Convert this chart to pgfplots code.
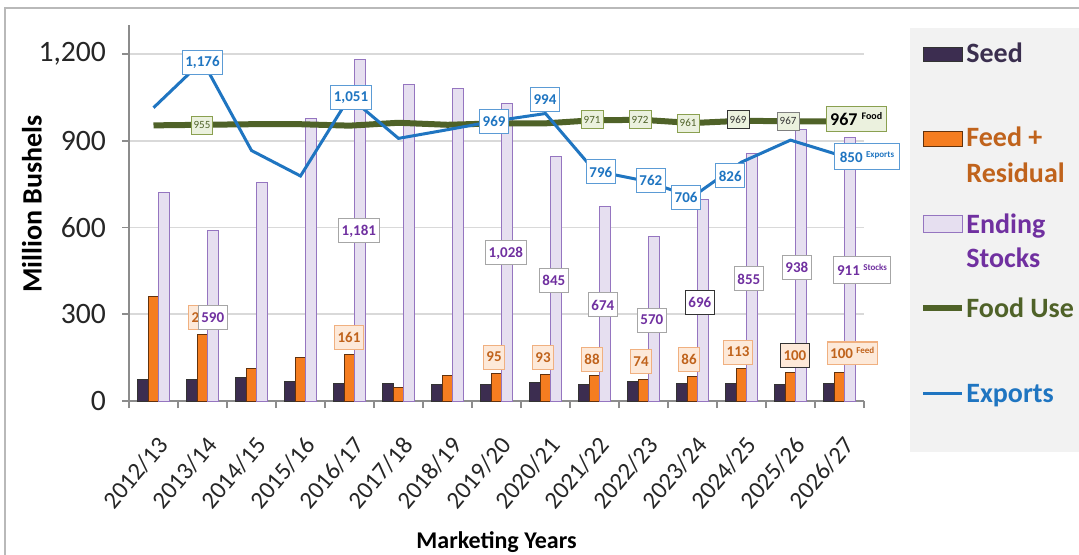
\documentclass[border=0pt]{standalone}
\usepackage{pgfplots}
\pgfplotsset{compat=1.18}
\usepackage{fontspec}
\setmainfont{Carlito}
\definecolor{seedc}{HTML}{3C2D50}
\definecolor{feedc}{HTML}{F57D20}
\definecolor{feedt}{HTML}{C0631C}
\definecolor{feedb}{HTML}{F0B080}
\definecolor{feedf}{HTML}{FDE9D9}
\definecolor{stockf}{HTML}{E6DFF0}
\definecolor{stockd}{HTML}{9575C0}
\definecolor{stockt}{HTML}{7030A0}
\definecolor{foodc}{HTML}{4F6228}
\definecolor{foodf}{HTML}{EBF1DE}
\definecolor{foodb}{HTML}{8AA050}
\definecolor{expc}{HTML}{1F75C1}
\definecolor{expb}{HTML}{5B9BD5}
\definecolor{gridc}{HTML}{D9D9D9}
\definecolor{axc}{HTML}{8C8C8C}
\definecolor{legbg}{HTML}{F2F2F2}
\definecolor{seedt}{HTML}{3B2F4F}
\tikzset{
  lab/.style={line width=0.5pt, inner xsep=1.6pt, inner ysep=0pt, minimum height=12pt,
    font=\bfseries\fontsize{7.5}{7.5}\selectfont},
  exlab/.style={lab, draw=expb, fill=white, text=expc},
  stlab/.style={lab, draw=gray!70, fill=white, text=stockt},
  fdlab/.style={lab, draw=feedb, fill=feedf, text=feedt},
  folab/.style={line width=0.5pt, inner xsep=1.3pt, inner ysep=0pt, minimum height=9pt,
    draw=foodb, fill=foodf, text=foodc, font=\fontsize{5.5}{5.5}\selectfont},
}
\newcommand{\sups}[1]{\raisebox{2.5pt}{\fontsize{4.5}{4.5}\selectfont #1}}
\begin{document}
\begin{tikzpicture}[x=0.5pt,y=0.5pt]
\useasboundingbox (0,0) rectangle (1079,554);
\fill[white] (0,0) rectangle (1079,554);
\draw[gray!55, line width=0.8pt] (5,-10) -- (5,546) -- (1090,546);
\fill[legbg] (910,526) rectangle (1090,102);
\begin{axis}[
  at={(64.5pt,76.5pt)}, anchor=south west, scale only axis,
  width=367.5pt, height=188pt,
  xmin=-0.5, xmax=14.5, ymin=0, ymax=1300,
  axis x line*=bottom, axis y line*=left,
  axis line style={draw=axc, line width=0.8pt},
  ytick={0,300,600,900,1200},
  ymajorgrids, grid style={draw=gridc, line width=0.8pt},
  xtick={0,...,14},
  xticklabels={2012/13,2013/14,2014/15,2015/16,2016/17,2017/18,2018/19,2019/20,2020/21,2021/22,2022/23,2023/24,2024/25,2025/26,2026/27},
  minor xtick={-0.5,0.5,...,14.5},
  tick align=outside,
  major tick length=3.5pt, minor tick length=3.5pt,
  major x tick style={draw=none},
  minor x tick style={draw=axc, line width=0.8pt},
  major y tick style={draw=axc, line width=0.8pt},
  /pgf/number format/.cd, 1000 sep={,}, assume math mode=true, /pgfplots/.cd,
  yticklabel style={font=\fontsize{14.8}{14.8}\selectfont, text=black!85, xshift=-4.5pt},
  xticklabel style={font=\fontsize{12.3}{12.3}\selectfont, text=black!85, xshift=0.8pt, yshift=-8.5pt, rotate=50, anchor=north east},
  ylabel={\bfseries Million Bushels},
  ylabel style={at={(axis description cs:-0.132,0.524)}, anchor=center, font=\fontsize{14}{14}\selectfont},
  xlabel={\bfseries Marketing Years},
  xlabel style={at={(axis description cs:0.5,-0.375)}, anchor=center, font=\fontsize{12}{12}\selectfont},
  clip=false,
]
\addplot[ybar, bar width=5.25pt, bar shift=-5.25pt, fill=seedc, draw=black!80, line width=0.4pt]
  coordinates {(0,73) (1,73) (2,80) (3,69) (4,62) (5,62) (6,58) (7,58) (8,64) (9,58) (10,68) (11,62) (12,62) (13,58) (14,62)};
\addplot[ybar, bar width=5.25pt, bar shift=0pt, fill=feedc, draw=black!60!feedc, line width=0.4pt]
  coordinates {(0,360) (1,231) (2,114) (3,150) (4,161) (5,47) (6,87) (7,95) (8,93) (9,88) (10,74) (11,86) (12,113) (13,100) (14,100)};
\addplot[ybar, bar width=5.25pt, bar shift=5.25pt, fill=stockf, draw=stockd, line width=0.5pt]
  coordinates {(0,720) (1,590) (2,755) (3,977) (4,1181) (5,1096) (6,1079) (7,1028) (8,845) (9,674) (10,570) (11,696) (12,855) (13,938) (14,911)};
\addplot[sharp plot, no marks, draw=foodc, line width=3pt]
  coordinates {(0,953) (1,955) (2,957) (3,957) (4,952) (5,962) (6,955) (7,960) (8,960) (9,971) (10,972) (11,961) (12,969) (13,967) (14,967)};
\addplot[sharp plot, no marks, draw=expc, line width=1.5pt]
  coordinates {(0,1014) (1,1176) (2,866) (3,778) (4,1051) (5,908) (6,938) (7,969) (8,994) (9,796) (10,762) (11,706) (12,826) (13,902) (14,850)};
% feed labels
\node[fdlab] at (axis cs:1.01,290) {232};
\node[fdlab] at (axis cs:3.99,221) {161};
\node[fdlab] at (axis cs:6.95,152) {95};
\node[fdlab] at (axis cs:7.95,149) {93};
\node[fdlab] at (axis cs:8.95,145) {88};
\node[fdlab] at (axis cs:9.95,135) {74};
\node[fdlab] at (axis cs:10.93,145) {86};
\node[fdlab] at (axis cs:11.93,169) {113};
\node[fdlab, draw=black!80] at (axis cs:13.09,156) {100};
\node[fdlab, minimum height=11pt] at (axis cs:14.26,166) {100 \sups{Feed}};
% stocks labels
\node[stlab] at (axis cs:1.21,290) {590};
\node[stlab] at (axis cs:4.19,588) {1,181};
\node[stlab] at (axis cs:7.19,512) {1,028};
\node[stlab] at (axis cs:8.17,418) {845};
\node[stlab] at (axis cs:9.17,332) {674};
\node[stlab] at (axis cs:10.17,280) {570};
\node[stlab, draw=black!80] at (axis cs:11.15,342) {696};
\node[stlab] at (axis cs:12.15,422) {855};
\node[stlab] at (axis cs:13.13,463) {938};
\node[stlab, minimum height=13.5pt] at (axis cs:14.46,453) {911 \sups{Stocks}};
% food labels
\node[folab] at (axis cs:0.99,954) {955};
\node[folab] at (axis cs:8.95,972) {971};
\node[folab] at (axis cs:9.93,972) {972};
\node[folab] at (axis cs:10.91,961) {961};
\node[folab, draw=black!80, text=black!80] at (axis cs:11.93,972) {969};
\node[folab, draw=gray, text=black!80] at (axis cs:12.95,968) {967};
\node[folab, minimum height=12.5pt, inner xsep=2pt, text=black, font=\bfseries\fontsize{9}{9}\selectfont] at (axis cs:14.34,975) {967 \raisebox{3pt}{\fontsize{5}{5}\selectfont Food}};
% exports labels
\node[exlab] at (axis cs:1,1172) {1,176};
\node[exlab] at (axis cs:4.03,1048) {1,051};
\node[exlab] at (axis cs:6.95,965) {969};
\node[exlab] at (axis cs:7.99,1041) {994};
\node[exlab] at (axis cs:9.13,792) {796};
\node[exlab] at (axis cs:10.15,761) {762};
\node[exlab] at (axis cs:10.87,705) {706};
\node[exlab] at (axis cs:11.77,778) {826};
\node[exlab, minimum height=13pt, inner xsep=2.5pt] at (axis cs:14.56,844) {850 \sups{Exports}};
\end{axis}
% legend
\begin{scope}[every node/.style={anchor=base west, inner sep=0pt, font=\bfseries\fontsize{14}{14}\selectfont}]
\draw[fill=seedc, draw=black!80, line width=0.5pt] (923,507) rectangle (962,493);
\node[text=seedt] at (966,492) {Seed};
\draw[fill=feedc, draw=black!60!feedc, line width=0.5pt] (923,423) rectangle (962,408);
\node[text=feedt] at (966,408) {Feed +};
\node[text=feedt] at (966,372) {Residual};
\draw[fill=stockf, draw=stockd, line width=0.5pt] (923,339) rectangle (962,322);
\node[text=stockt] at (966,321) {Ending};
\node[text=stockt] at (966,287) {Stocks};
\draw[draw=foodc, line width=3pt] (923,246) -- (962,246);
\node[text=foodc] at (966,237) {Food Use};
\draw[draw=expc, line width=1.5pt] (923,161) -- (962,161);
\node[text=expc] at (966,152) {Exports};
\end{scope}
\end{tikzpicture}
\end{document}
